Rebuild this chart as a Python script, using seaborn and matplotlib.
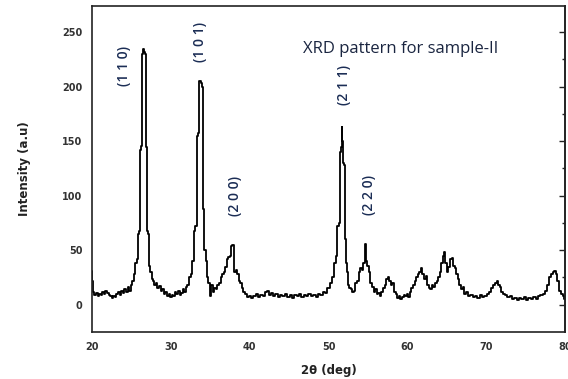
import numpy as np
import pandas as pd
import matplotlib
matplotlib.use("Agg")
import matplotlib.pyplot as plt
import seaborn as sns

# ---- data (2-theta in deg, intensity in a.u.) ----
two_theta = [
    20.0, 20.1, 20.2, 20.4, 20.6, 20.8, 21.0, 21.2, 21.4, 21.6, 21.8, 22.0, 22.2, 22.4, 22.6, 22.8,
    23.0, 23.2, 23.4, 23.6, 23.8, 24.0, 24.2, 24.4, 24.6, 24.8, 25.0, 25.2, 25.4, 25.6, 25.8, 25.9,
    26.1, 26.15, 26.3, 26.35, 26.5, 26.6, 26.8, 26.85, 27.0, 27.05, 27.2, 27.3, 27.5, 27.6, 27.8,
    28.0, 28.2, 28.4, 28.6, 28.8, 29.0, 29.2, 29.4, 29.6, 29.8, 30.0, 30.2, 30.4, 30.6, 30.8, 31.0,
    31.2, 31.4, 31.6, 31.8, 32.0, 32.2, 32.4, 32.6, 32.8, 33.0, 33.2, 33.3, 33.5, 33.55, 33.7, 33.9,
    34.0, 34.05, 34.2, 34.3, 34.5, 34.6, 34.8, 35.0, 35.2, 35.4, 35.6, 35.8, 36.0, 36.2, 36.4, 36.6,
    36.8, 37.0, 37.2, 37.4, 37.6, 37.7, 37.9, 38.0, 38.1, 38.3, 38.5, 38.7, 38.9, 39.1, 39.3, 39.5,
    39.8, 40.0, 40.3, 40.6, 40.9, 41.2, 41.5, 41.8, 42.1, 42.3, 42.5, 42.8, 43.1, 43.4, 43.7, 44.0,
    44.3, 44.6, 44.9, 45.2, 45.5, 45.8, 46.1, 46.4, 46.7, 47.0, 47.3, 47.6, 47.9, 48.2, 48.5, 48.8,
    49.1, 49.4, 49.7, 50.0, 50.3, 50.6, 50.8, 51.0, 51.2, 51.4, 51.5, 51.6, 51.7, 51.8, 51.9, 52.0,
    52.1, 52.2, 52.3, 52.4, 52.5, 52.7, 52.9, 53.1, 53.3, 53.5, 53.7, 53.9, 54.1, 54.3, 54.5, 54.7,
    54.8, 55.0, 55.2, 55.4, 55.6, 55.8, 56.0, 56.2, 56.4, 56.6, 56.8, 57.0, 57.2, 57.4, 57.6, 57.8,
    58.0, 58.2, 58.4, 58.6, 58.8, 59.0, 59.2, 59.4, 59.6, 59.8, 60.0, 60.2, 60.4, 60.6, 60.8, 61.0,
    61.2, 61.4, 61.6, 61.8, 62.0, 62.2, 62.4, 62.6, 62.8, 63.0, 63.2, 63.4, 63.6, 63.8, 64.0, 64.2,
    64.4, 64.6, 64.7, 64.9, 65.1, 65.3, 65.5, 65.7, 65.9, 66.1, 66.3, 66.5, 66.7, 66.9, 67.1, 67.3,
    67.5, 67.8, 68.1, 68.4, 68.7, 69.0, 69.3, 69.6, 69.9, 70.2, 70.5, 70.8, 71.0, 71.2, 71.4, 71.6,
    71.8, 72.0, 72.2, 72.5, 72.8, 73.1, 73.4, 73.7, 74.0, 74.3, 74.6, 74.9, 75.2, 75.5, 75.8, 76.1,
    76.4, 76.7, 77.0, 77.3, 77.6, 77.9, 78.1, 78.3, 78.5, 78.7, 78.9, 79.1, 79.3, 79.6, 79.8, 80.0,
]
intensity = [
    31, 22, 12, 9, 11, 8, 10, 9, 12, 10, 13, 11, 9, 8, 6, 8,
    7, 10, 12, 9, 13, 11, 14, 12, 16, 13, 18, 22, 28, 38, 42, 65,
    68, 142, 146, 230, 235, 232, 230, 145, 143, 68, 65, 36, 30, 24, 22,
    18, 20, 15, 17, 13, 14, 10, 12, 8, 10, 7, 9, 8, 12, 10, 13,
    9, 11, 14, 12, 16, 18, 25, 28, 40, 68, 72, 155, 158, 200, 205, 203,
    200, 90, 88, 50, 40, 25, 20, 8, 18, 12, 15, 14, 18, 20, 25, 28,
    30, 35, 42, 44, 45, 54, 55, 46, 30, 32, 28, 22, 20, 15, 12, 10,
    7, 8, 6, 8, 10, 7, 9, 8, 12, 13, 9, 11, 8, 10, 7, 9,
    8, 10, 7, 9, 6, 9, 8, 10, 7, 9, 8, 10, 8, 9, 7, 10,
    9, 12, 11, 15, 20, 25, 38, 45, 72, 75, 140, 145, 163, 150, 130, 128,
    60, 58, 38, 30, 18, 15, 14, 12, 13, 20, 22, 30, 34, 32, 38, 56,
    40, 36, 30, 20, 16, 12, 14, 10, 11, 8, 12, 15, 18, 24, 25, 22,
    18, 20, 12, 10, 6, 8, 5, 7, 9, 8, 10, 7, 12, 15, 18, 22,
    25, 28, 30, 34, 28, 24, 26, 18, 15, 14, 18, 16, 20, 22, 25, 30,
    38, 45, 48, 38, 30, 35, 42, 43, 36, 34, 28, 24, 18, 14, 16, 10,
    12, 8, 9, 7, 8, 6, 9, 7, 8, 10, 12, 15, 18, 20, 22, 18,
    16, 12, 10, 9, 7, 8, 5, 6, 4, 6, 5, 7, 4, 6, 5, 7,
    5, 8, 9, 10, 13, 18, 25, 28, 30, 31, 28, 22, 13, 10, 8, 5,
]

peak_labels = ["(1 1 0)", "(1 0 1)", "(2 0 0)", "(2 1 1)", "(2 2 0)"]
label_x = [24.1, 33.7, 38.1, 52.0, 55.1]
label_y = [219, 241, 100, 202, 101]

title_text = "XRD pattern for sample-II"
x_ticks = [20, 30, 40, 50, 60, 70, 80]
y_ticks = [0, 50, 100, 150, 200, 250]

df = pd.DataFrame({"two_theta": two_theta, "intensity": intensity})

sns.set_theme(style="white")
plt.rcParams["font.family"] = ["DejaVu Sans"]

fig = plt.figure(figsize=(5.68, 3.79), dpi=100)
ax = fig.add_axes([0.162, 0.124, 0.833, 0.86])

sns.lineplot(data=df, x="two_theta", y="intensity", ax=ax, color="black",
             linewidth=1.3, estimator=None, sort=False, drawstyle="steps-mid")

ax.set_xlim(20, 80)
ax.set_ylim(-25, 274)
ax.set_xticks(x_ticks)
ax.set_yticks(y_ticks)
ax.set_xticks(np.arange(25, 80, 10), minor=True)
ax.set_yticks(np.arange(25, 275, 50), minor=True)
ax.set_xticklabels([str(t) for t in x_ticks], fontsize=7, fontweight="bold", color="#333333")
ax.set_yticklabels([str(t) for t in y_ticks], fontsize=7, fontweight="bold", color="#333333")
ax.tick_params(axis="both", which="major", direction="out", length=4, width=1, colors="#222222",
               labelcolor="#333333", pad=3)
ax.tick_params(axis="both", which="minor", direction="out", length=2.5, width=1, colors="#222222")
for s in ax.spines.values():
    s.set_color("#222222")
    s.set_linewidth(1.2)

# inward ticks along the right spine
sec = ax.secondary_yaxis("right")
sec.set_yticks(y_ticks)
sec.set_yticks(np.arange(25, 275, 50), minor=True)
sec.tick_params(which="major", direction="in", length=4, width=1, colors="#222222", labelright=False)
sec.tick_params(which="minor", direction="in", length=2.5, width=1, colors="#222222")
sec.spines["right"].set_color("#222222")
sec.spines["right"].set_linewidth(1.2)

ax.set_xlabel("2θ (deg)", fontsize=8.5, fontweight="bold", color="#222222", labelpad=9)
ax.set_ylabel("Intensity (a.u)", fontsize=8.5, fontweight="bold", color="#222222", labelpad=22)

for lab, lx, ly in zip(peak_labels, label_x, label_y):
    ax.text(lx, ly, lab, rotation=90, ha="center", va="center", fontsize=10,
            fontweight="semibold", color="#1b2d55", family=["Open Sans", "DejaVu Sans"])

ax.text(46.8, 235, title_text, ha="left", va="center", fontsize=12,
        color="#1a2540", family=["Open Sans", "DejaVu Sans"])

fig.savefig("out.png", dpi=100, facecolor="white")
